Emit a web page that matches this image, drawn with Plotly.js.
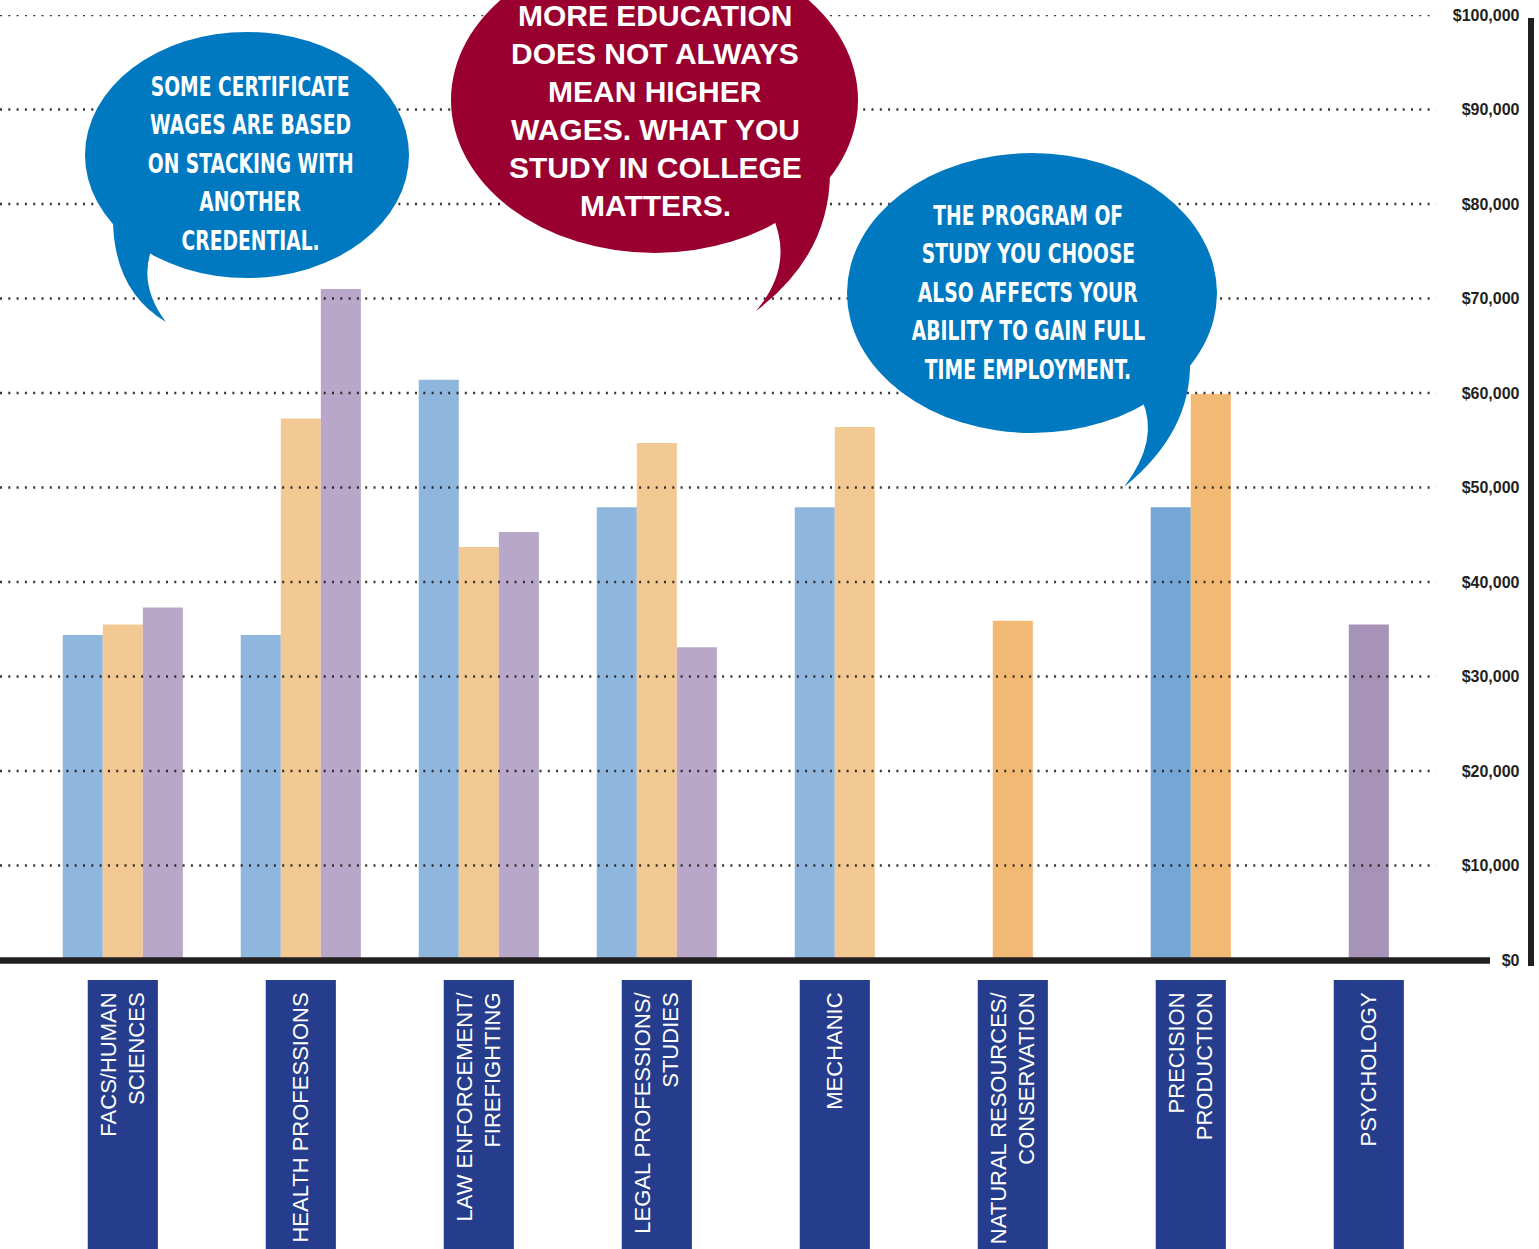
<!DOCTYPE html>
<html>
<head>
<meta charset="utf-8">
<script src="https://cdn.plot.ly/plotly-3.0.1.min.js"></script>
<style>html,body{margin:0;padding:0;background:#fff;}#chart{width:1539px;height:1249px;}</style>
</head>
<body>
<div id="chart"></div>
<script>
// ---------- DATA ----------
const categories = [
  'FACS/HUMAN<br>SCIENCES',
  'HEALTH PROFESSIONS',
  'LAW ENFORCEMENT/<br>FIREFIGHTING',
  'LEGAL PROFESSIONS/<br>STUDIES',
  'MECHANIC',
  'NATURAL RESOURCES/<br>CONSERVATION',
  'PRECISION<br>PRODUCTION',
  'PSYCHOLOGY'
];
const seriesNames = ['Certificate', 'Associate degree', "Bachelor's degree"];
const certificateWages = [34400, 34400, 61400, 47900, 47900, null, 47900, null];
const associateWages   = [35500, 57300, 43700, 54700, 56400, 35900, 59900, null];
const bachelorWages    = [37300, 71000, 45300, 33100, null, null, null, 35500];
const wageTicks = [0, 10000, 20000, 30000, 40000, 50000, 60000, 70000, 80000, 90000, 100000];
const wageTickText = wageTicks.map(v => '$' + v.toLocaleString('en-US'));

const bubble1Lines = ['SOME CERTIFICATE', 'WAGES ARE BASED', 'ON STACKING WITH', 'ANOTHER', 'CREDENTIAL.'];
const bubble2Lines = ['MORE EDUCATION', 'DOES NOT ALWAYS', 'MEAN HIGHER', 'WAGES. WHAT YOU', 'STUDY IN COLLEGE', 'MATTERS.'];
const bubble3Lines = ['THE PROGRAM OF', 'STUDY YOU CHOOSE', 'ALSO AFFECTS YOUR', 'ABILITY TO GAIN FULL', 'TIME EMPLOYMENT.'];

// ---------- STYLE ----------
const W = 1539, H = 1249;
const M = {l: 0, r: 0, t: 15, b: 289};
const plotH = H - M.t - M.b;           // 945
const baseY = H - M.b;                  // 960
const xDomainEnd = 1440 / W;
const emphasis = [false, false, false, false, false, true, true, true];
const lightColors = ['#8fb7dd', '#f3c993', '#b8a7c9'];
const darkColors  = ['#74a7d6', '#f2b975', '#a792b8'];
const barWidth = 0.225;
const ink = '#231f20';
const bubbleBlue = '#0079c1';
const bubbleRed = '#990030';
const navy = '#253d8c';
const condenseFactor = 0.77;

const seriesValues = [certificateWages, associateWages, bachelorWages];

// centre the bars that exist inside each category
const offsets = seriesValues.map(() => categories.map(() => 0));
categories.forEach((c, i) => {
  const present = seriesValues.map((s, k) => s[i] != null ? k : -1).filter(k => k >= 0);
  const n = present.length;
  present.forEach((k, j) => { offsets[k][i] = -n * barWidth / 2 + j * barWidth; });
});

const traces = seriesValues.map((vals, k) => ({
  type: 'bar',
  name: seriesNames[k],
  x: categories,
  y: vals,
  width: barWidth,
  offset: offsets[k],
  marker: {color: categories.map((c, i) => emphasis[i] ? darkColors[k] : lightColors[k]), line: {width: 0}},
  hoverinfo: 'x+y+name'
}));

// pixel -> paper helpers for decorations
const px = x => x / W;
const py = y => (baseY - y) / plotH;
const pt = (x, y) => px(x) + ',' + py(y);

const shapes = [];
// label boxes (below)
categories.forEach((c, i) => {
  shapes.push({type: 'rect', layer: 'below', xref: 'x', yref: 'paper',
    x0: i - 0.197, x1: i + 0.197, y0: py(1252), y1: py(980),
    fillcolor: navy, line: {width: 0}});
});
// dotted grid lines above bars
wageTicks.filter(v => v > 0).forEach(v => {
  shapes.push({type: 'line', layer: 'above', xref: 'paper', yref: 'y',
    x0: 0, x1: px(1436), y0: v, y1: v,
    line: {color: ink, width: 2.5, dash: '2px,6.3px'}, opacity: 0.9});
});
// baseline and right rule
shapes.push({type: 'line', layer: 'above', xref: 'paper', yref: 'paper',
  x0: 0, x1: px(1490), y0: py(960.5), y1: py(960.5), line: {color: ink, width: 6.5}});
shapes.push({type: 'line', layer: 'above', xref: 'paper', yref: 'paper',
  x0: px(1531), x1: px(1531), y0: py(18), y1: py(966), line: {color: ink, width: 6}});
// speech bubbles
function bubble(cx, cy, rx, ry, tail, color) {
  shapes.push({type: 'circle', layer: 'above', xref: 'paper', yref: 'paper',
    x0: px(cx - rx), x1: px(cx + rx), y0: py(cy + ry), y1: py(cy - ry),
    fillcolor: color, line: {width: 0}});
  shapes.push({type: 'path', layer: 'above', xref: 'paper', yref: 'paper',
    path: 'M' + pt(tail[0][0], tail[0][1]) +
          ' Q' + pt(tail[1][0], tail[1][1]) + ' ' + pt(tail[2][0], tail[2][1]) +
          ' Q' + pt(tail[3][0], tail[3][1]) + ' ' + pt(tail[4][0], tail[4][1]) + ' Z',
    fillcolor: color, line: {width: 0}});
}
bubble(247, 155, 162, 123, [[113, 215], [112, 290], [166, 322], [138, 285], [152, 248]], bubbleBlue);
bubble(654.5, 100, 203.5, 153, [[772, 215], [795, 265], [756, 311], [830, 255], [830, 172]], bubbleRed);
bubble(1032, 293, 185, 140, [[1190, 360], [1192, 432], [1124, 487], [1160, 440], [1142, 400]], bubbleBlue);

// bubble texts
const annotations = [];
const condensedIdx = [];
const condensedFamily = 'DejaVu Sans Condensed, DejaVu Sans, sans-serif';
function bubbleText(lines, cx, y0, step, family, size, condense) {
  lines.forEach((t, j) => {
    if (condense) condensedIdx.push(annotations.length);
    annotations.push({xref: 'paper', yref: 'paper', x: px(cx), y: py(y0 + j * step),
      xanchor: 'center', yanchor: 'middle', showarrow: false, text: t,
      font: {family: family, size: size, color: '#ffffff', weight: 700}});
  });
}
bubbleText(bubble1Lines, 250, 86, 38.5, condensedFamily, 27, true);
bubbleText(bubble2Lines, 655, 15, 38.1, 'Liberation Sans, Arial, sans-serif', 30, false);
bubbleText(bubble3Lines, 1028, 215, 38.5, condensedFamily, 27, true);

const layout = {
  width: W, height: H,
  margin: M,
  paper_bgcolor: '#ffffff', plot_bgcolor: '#ffffff',
  showlegend: false,
  barmode: 'overlay',
  hovermode: false,
  xaxis: {
    type: 'category', domain: [0, xDomainEnd], range: [-0.69, 7.40],
    showgrid: false, zeroline: false, showline: false, ticks: '',
    tickangle: -90, ticklabelstandoff: 27,
    tickfont: {family: 'Liberation Sans, Arial, sans-serif', size: 22, color: '#ffffff'}
  },
  yaxis: {
    range: [0, 100000], tickmode: 'array', tickvals: wageTicks, ticktext: wageTickText,
    showgrid: false, zeroline: false, showline: false, ticks: '',
    anchor: 'free', side: 'left', position: 1519.5 / W,
    tickfont: {family: 'Liberation Sans, Arial, sans-serif', size: 16, color: ink, weight: 700}
  },
  shapes: shapes,
  annotations: annotations
};

Plotly.newPlot('chart', traces, layout, {displayModeBar: false, staticPlot: true}).then(gd => {
  // squeeze the condensed bubble captions horizontally (the poster used a condensed face)
  gd.querySelectorAll('.annotation').forEach(g => {
    const idx = +g.getAttribute('data-index');
    if (condensedIdx.indexOf(idx) < 0) return;
    const t = g.querySelector('text.annotation-text');
    if (!t) return;
    const len = t.getComputedTextLength();
    t.setAttribute('textLength', (len * condenseFactor).toFixed(1));
    t.setAttribute('lengthAdjust', 'spacingAndGlyphs');
  });
});
</script>
</body>
</html>
